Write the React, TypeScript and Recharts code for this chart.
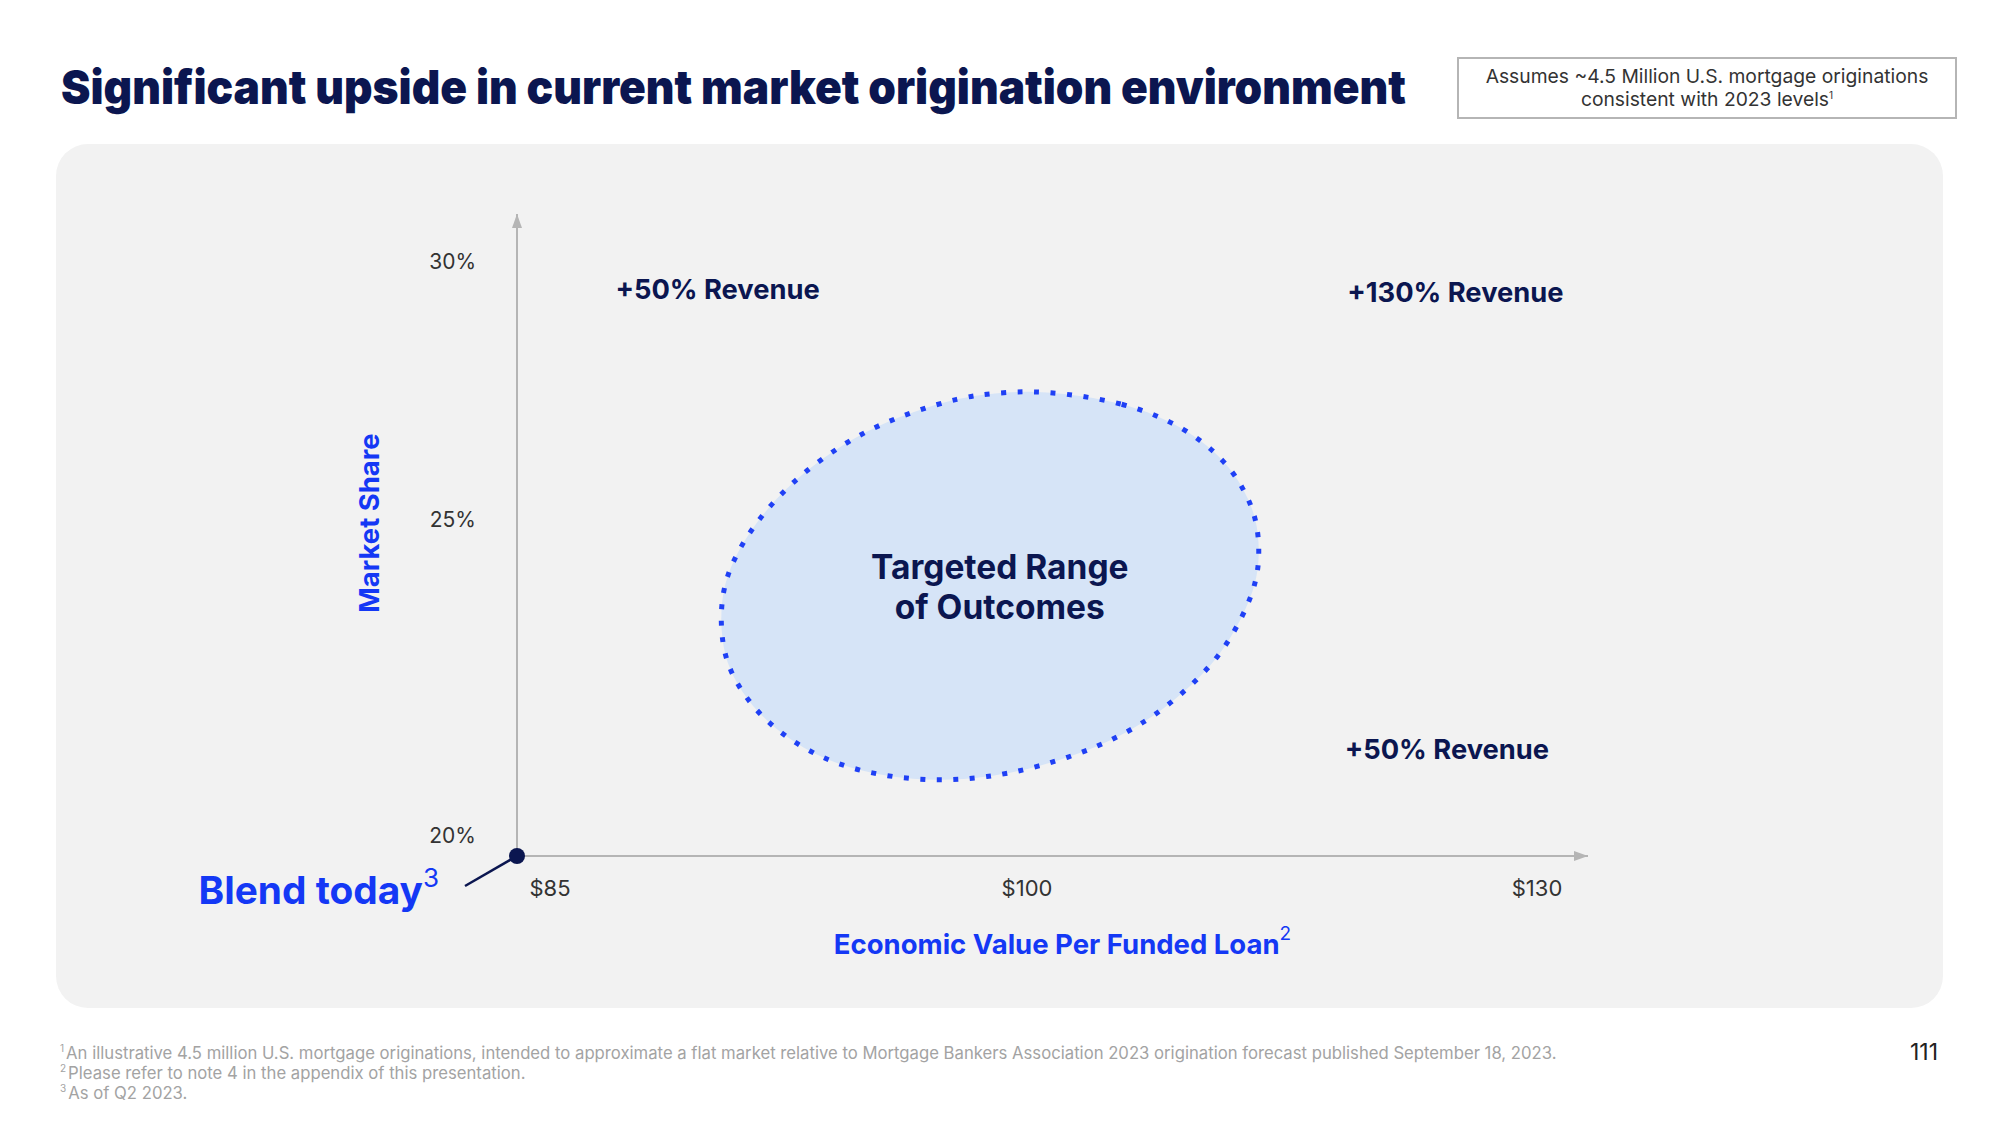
import React from 'react';
import { ScatterChart, Scatter, XAxis, YAxis, Label } from 'recharts';

const NAVY = '#0b1650';
const BLUE = '#1438f5';
const AXIS_GREY = '#b5b5b5';

const xTickValues = [85, 100, 130];
const xTickLabels = ['$85', '$100', '$130'];
const yTickValues = [20, 25, 30];
const yTickLabels = ['20%', '25%', '30%'];

// outline of the targeted range, clockwise from the top ($ per loan, market share %)
const rangeDollars = [100.8, 105.8, 109.4, 111.6, 112.7, 113.5, 113.7, 113.5, 112.7, 111.3, 109.2, 106.9, 104.2, 100.6, 98.8, 97.4, 95.9, 94.4, 93.1, 92.0, 91.2, 91.0, 91.0, 91.2, 91.9, 92.9, 94.0, 95.3, 96.6, 98.0, 99.0];
const rangeShare = [27.81, 27.58, 27.07, 26.47, 25.97, 25.42, 24.8, 24.26, 23.69, 23.01, 22.44, 21.97, 21.6, 21.29, 21.14, 21.09, 21.15, 21.33, 21.67, 22.15, 22.81, 23.39, 23.92, 24.49, 25.24, 25.95, 26.52, 27.04, 27.38, 27.66, 27.75];

const quadrantLabels = ['+50% Revenue', '+130% Revenue', '+50% Revenue'];
const quadrantDollars = [90.9, 125.2, 124.7];
const quadrantShare = [29.87, 29.8, 21.56];

const targetLines = ['Targeted Range', 'of Outcomes'];
const targetDollars = [99.2];
const targetShare = [24.2];

const blendLabel = 'Blend today';
const blendDollars = [85];
const blendShare = [20];

const footnotes = [
  'An illustrative 4.5 million U.S. mortgage originations, intended to approximate a flat market relative to Mortgage Bankers Association 2023 origination forecast published September 18, 2023.',
  'Please refer to note 4 in the appendix of this presentation.',
  'As of Q2 2023.',
];

// the x axis is drawn evenly between the labelled dollar values
const toAxisX = (v: number) => {
  for (let i = 1; i < xTickValues.length; i++) {
    if (v <= xTickValues[i] || i === xTickValues.length - 1) {
      const a = xTickValues[i - 1];
      const b = xTickValues[i];
      return i - 1 + (v - a) / (b - a);
    }
  }
  return 0;
};

const rangeData = rangeDollars.map((d, i) => ({ x: toAxisX(d), y: rangeShare[i] }));
const quadrantData = quadrantLabels.map((label, i) => ({ x: toAxisX(quadrantDollars[i]), y: quadrantShare[i], label }));
const targetData = targetDollars.map((d, i) => ({ x: toAxisX(d), y: targetShare[i] }));
const blendData = blendDollars.map((d, i) => ({ x: toAxisX(d), y: blendShare[i] }));

const supStyle: React.CSSProperties = { fontSize: 10, lineHeight: 0, verticalAlign: 'baseline', position: 'relative', top: -7 };

const YTick = ({ x, y, payload }: any) => (
  <text x={x} y={y - 21} textAnchor="end" dominantBaseline="central" fontSize={21} fill="#333">
    {yTickLabels[yTickValues.indexOf(payload.value)]}
  </text>
);

const XTick = ({ x, y, payload }: any) => (
  <text x={x + (payload.value === 0 ? 33 : 0)} y={y} textAnchor="middle" dominantBaseline="central" fontSize={22} fill="#333">
    {xTickLabels[payload.value]}
  </text>
);

const XTitle = ({ viewBox }: any) => (
  <text x={viewBox.x + viewBox.width / 2 + 10} y={viewBox.y + 88} textAnchor="middle" dominantBaseline="central" fill={BLUE} fontSize={27.5} fontWeight={700}>
    Economic Value Per Funded Loan
    <tspan fontSize={19} fontWeight={400} dy={-11}>2</tspan>
  </text>
);

const YTitle = ({ viewBox }: any) => {
  const cx = viewBox.x + 12;
  const cy = viewBox.y + viewBox.height / 2 - 12;
  return (
    <text x={cx} y={cy} transform={`rotate(-90, ${cx}, ${cy})`} textAnchor="middle" dominantBaseline="central" fill={BLUE} fontSize={27.5} fontWeight={700}>
      Market Share
    </text>
  );
};

const QuadrantShape = (p: any) => (
  <text x={p.cx} y={p.cy} textAnchor="middle" dominantBaseline="central" fontSize={27.3} fontWeight={700} fill={NAVY}>
    {p.payload.label}
  </text>
);

const TargetShape = (p: any) => (
  <g>
    {targetLines.map((t, i) => (
      <text key={t} x={p.cx} y={p.cy + (i - 0.5) * 40} textAnchor="middle" dominantBaseline="central" fontSize={33.5} fontWeight={700} fill={NAVY}>
        {t}
      </text>
    ))}
  </g>
);

const BlendShape = (p: any) => (
  <g>
    <line x1={p.cx - 52} y1={p.cy + 30} x2={p.cx} y2={p.cy} stroke={NAVY} strokeWidth={2.5} />
    <circle cx={p.cx} cy={p.cy} r={8} fill={NAVY} />
    <text x={p.cx - 78} y={p.cy + 48} textAnchor="end" fill={BLUE} fontSize={38.8} fontWeight={700}>
      {blendLabel}
      <tspan fontSize={26} fontWeight={400} dy={-17}>3</tspan>
    </text>
  </g>
);

export default function App() {
  return (
    <div style={{ position: 'absolute', left: 0, top: 0, width: 2000, height: 1125, background: '#fff', fontFamily: 'Inter, sans-serif', overflow: 'hidden' }}>
      <svg width={0} height={0} style={{ position: 'absolute' }}>
        <defs>
          <marker id="axisArrow" viewBox="0 0 14 10" refX={14} refY={5} markerWidth={14} markerHeight={10} markerUnits="userSpaceOnUse" orient="auto-start-reverse">
            <path d="M0,0 L14,5 L0,10 z" fill={AXIS_GREY} />
          </marker>
        </defs>
      </svg>

      <svg width={2000} height={140} style={{ position: 'absolute', left: 0, top: 0 }}>
        <text x={61} y={104} textLength={1345} lengthAdjust="spacingAndGlyphs" fontSize={47} fontWeight={900} fill={NAVY} fontFamily="Inter">
          Significant upside in current market origination environment
        </text>
      </svg>

      <div style={{ position: 'absolute', left: 1457, top: 57, width: 500, height: 62, boxSizing: 'border-box', border: '2px solid #b5b5b5', display: 'flex', flexDirection: 'column', alignItems: 'center', justifyContent: 'center', fontSize: 19.3, lineHeight: '23px', color: '#333' }}>
        <div>Assumes ~4.5 Million U.S. mortgage originations</div>
        <div>consistent with 2023 levels<span style={supStyle}>1</span></div>
      </div>

      <div style={{ position: 'absolute', left: 56, top: 144, width: 1887, height: 864, borderRadius: 32, background: '#f2f2f2' }}>
        <ScatterChart width={1887} height={864} margin={{ top: 70, right: 355, left: 301, bottom: 52 }}>
          <XAxis
            type="number"
            dataKey="x"
            domain={[0, 2.1]}
            ticks={[0, 1, 2]}
            height={100}
            tickSize={0}
            tickMargin={32}
            tickLine={false}
            tick={XTick}
            axisLine={{ stroke: AXIS_GREY, strokeWidth: 2, markerEnd: 'url(#axisArrow)' }}
          >
            <Label content={XTitle} />
          </XAxis>
          <YAxis
            type="number"
            dataKey="y"
            scale="log"
            domain={[20, 31.5]}
            ticks={yTickValues}
            width={160}
            tickSize={0}
            tickMargin={41}
            tickLine={false}
            tick={YTick}
            axisLine={{ stroke: AXIS_GREY, strokeWidth: 2, markerStart: 'url(#axisArrow)' }}
          >
            <Label content={YTitle} />
          </YAxis>
          <Scatter
            data={rangeData}
            isAnimationActive={false}
            shape={() => <g />}
            line={{ stroke: '#1f40f5', strokeWidth: 5, strokeDasharray: '5 11.5', fill: '#d6e4f7' }}
            lineJointType="basisClosed"
          />
          <Scatter data={targetData} isAnimationActive={false} shape={TargetShape} />
          <Scatter data={quadrantData} isAnimationActive={false} shape={QuadrantShape} />
          <Scatter data={blendData} isAnimationActive={false} shape={BlendShape} />
        </ScatterChart>
      </div>

      <div style={{ position: 'absolute', left: 60, top: 1043, fontSize: 16.7, lineHeight: '20px', color: '#a3a3a3' }}>
        {footnotes.map((f, i) => (
          <div key={i}>
            <span style={{ ...supStyle, marginRight: 2 }}>{i + 1}</span>
            {f}
          </div>
        ))}
      </div>

      <div style={{ position: 'absolute', left: 1880, top: 1038, width: 58, textAlign: 'right', fontSize: 23, color: '#222' }}>111</div>
    </div>
  );
}
